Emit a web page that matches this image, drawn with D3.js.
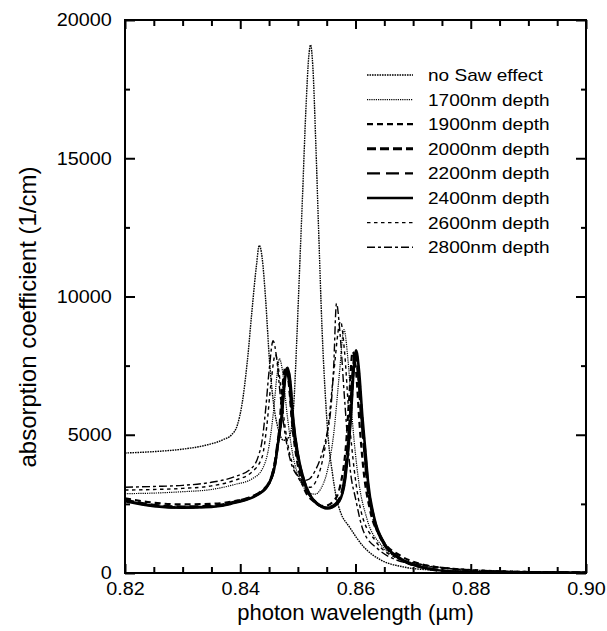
<!DOCTYPE html>
<html>
<head>
<meta charset="utf-8">
<script src="https://cdn.jsdelivr.net/npm/d3@7"></script>
<style>
  html, body { margin: 0; padding: 0; background: #fff; }
  svg { display: block; }
  text { font-family: "Liberation Sans", Arial, Helvetica, sans-serif; fill: #000; }
</style>
</head>
<body>
<svg id="chart" width="607" height="631"></svg>
<script>
// Absorption spectra [wavelength (um), absorption coefficient (1/cm)]
const noSaw = [[0.820,4340],[0.825,4390],[0.830,4480],[0.834,4620],[0.837,4820],[0.8385,5000],[0.8395,5350],[0.8403,6100],[0.8412,7600],[0.8420,9400],[0.8428,11100],[0.8433,11850],[0.8438,11400],[0.8444,9900],[0.8451,7600],[0.8458,6100],[0.8466,5200],[0.8475,4800],[0.8484,4900],[0.8490,5400],[0.8494,6500],[0.8498,8400],[0.8503,11000],[0.8508,13600],[0.8514,16800],[0.8519,18700],[0.8522,19100],[0.8526,18300],[0.8531,15600],[0.8536,12400],[0.8542,8800],[0.8548,6300],[0.8553,4800],[0.8560,3600],[0.8567,2700],[0.8574,2200],[0.8590,1650],[0.8614,950],[0.8643,480],[0.8683,220],[0.873,110],[0.880,55],[0.890,25],[0.900,12]];
const d1700 = [[0.820,2870],[0.825,2890],[0.830,2940],[0.835,3020],[0.839,3200],[0.842,3400],[0.8438,3750],[0.8450,4600],[0.8458,5900],[0.8464,7200],[0.8468,7750],[0.8474,7200],[0.8481,5800],[0.8491,4300],[0.8505,3300],[0.852,2900],[0.853,2850],[0.854,3050],[0.855,3600],[0.8562,5000],[0.8572,7200],[0.8580,8800],[0.8587,7700],[0.8595,5400],[0.8605,3400],[0.862,1950],[0.8645,1000],[0.868,500],[0.871,320],[0.876,170],[0.880,110],[0.890,45],[0.900,20]];
const d1900 = [[0.820,2700],[0.825,2540],[0.830,2480],[0.835,2500],[0.839,2600],[0.842,2760],[0.8445,3100],[0.8458,3800],[0.8467,5000],[0.8473,6700],[0.8478,7400],[0.8484,6900],[0.8490,5400],[0.8499,4000],[0.8512,3000],[0.853,2550],[0.8546,2420],[0.8562,2600],[0.8574,3200],[0.8583,4500],[0.8589,6300],[0.8595,8000],[0.8601,7300],[0.8607,5400],[0.8614,3700],[0.8625,2300],[0.8645,1250],[0.868,600],[0.871,340],[0.877,150],[0.880,100],[0.890,35],[0.900,15]];
const d2000 = [[0.820,2640],[0.825,2450],[0.830,2390],[0.835,2420],[0.8383,2530],[0.844,3000],[0.8458,3720],[0.8466,4810],[0.8471,5600],[0.8476,6800],[0.8481,7400],[0.8486,6900],[0.8491,5600],[0.8499,4340],[0.8510,3360],[0.8527,2640],[0.8551,2350],[0.8568,2530],[0.8579,3110],[0.8586,4340],[0.8591,5600],[0.8596,7300],[0.8600,8000],[0.8605,7300],[0.8611,5600],[0.8616,4450],[0.8621,3250],[0.8631,2050],[0.8649,1080],[0.8673,580],[0.8701,290],[0.8777,45],[0.890,15],[0.900,8]];
const d2200 = [[0.820,2620],[0.825,2430],[0.830,2370],[0.835,2400],[0.8383,2510],[0.844,2980],[0.8458,3690],[0.8466,4780],[0.8471,5550],[0.8476,6750],[0.8480,7300],[0.8485,6850],[0.8490,5600],[0.8498,4350],[0.8509,3380],[0.8526,2660],[0.8549,2370],[0.8566,2520],[0.8578,3100],[0.8585,4300],[0.8590,5550],[0.8595,7200],[0.8599,7900],[0.8604,7250],[0.8610,5600],[0.8615,4450],[0.8620,3250],[0.8630,2050],[0.8648,1090],[0.8672,585],[0.8700,295],[0.8775,48],[0.890,16],[0.900,8]];
const d2400 = [[0.820,2600],[0.825,2420],[0.830,2360],[0.835,2390],[0.8383,2500],[0.844,2970],[0.8458,3680],[0.8466,4760],[0.8472,5650],[0.8477,6900],[0.8482,7420],[0.8487,6900],[0.8492,5550],[0.8500,4300],[0.8511,3330],[0.8528,2620],[0.8552,2340],[0.8569,2520],[0.8580,3120],[0.8587,4350],[0.8592,5650],[0.8597,7400],[0.8601,8050],[0.8606,7350],[0.8612,5650],[0.8617,4450],[0.8622,3250],[0.8632,2040],[0.8650,1070],[0.8674,575],[0.8702,285],[0.8779,42],[0.890,14],[0.900,7]];
const d2600 = [[0.820,3000],[0.825,3020],[0.830,3060],[0.835,3150],[0.839,3350],[0.842,3650],[0.8438,4200],[0.8446,5300],[0.8453,6800],[0.8461,7900],[0.8467,7300],[0.8474,5900],[0.8483,4600],[0.8495,3700],[0.851,3200],[0.8522,3100],[0.8532,3350],[0.8542,4000],[0.8552,5200],[0.8562,7200],[0.8574,9100],[0.8581,8000],[0.8589,5600],[0.8598,3700],[0.861,2200],[0.8635,1150],[0.867,550],[0.870,370],[0.875,200],[0.880,120],[0.890,50],[0.900,22]];
const d2800 = [[0.820,3100],[0.825,3130],[0.830,3170],[0.835,3280],[0.839,3480],[0.842,3800],[0.8431,4200],[0.8438,4800],[0.8444,5900],[0.8450,7300],[0.8457,8400],[0.8463,7800],[0.8470,6300],[0.8478,5000],[0.8488,4000],[0.8500,3500],[0.8512,3350],[0.8520,3400],[0.8530,3700],[0.8540,4200],[0.8550,5000],[0.8557,5900],[0.8562,7400],[0.8567,9750],[0.8573,8700],[0.8581,6300],[0.8591,3700],[0.8600,2700],[0.8614,1500],[0.8640,850],[0.867,480],[0.870,330],[0.875,180],[0.880,110],[0.890,45],[0.900,20]];

const seriesNames = ["no Saw effect","1700nm depth","1900nm depth","2000nm depth","2200nm depth","2400nm depth","2600nm depth","2800nm depth"];
const seriesData = [noSaw, d1700, d1900, d2000, d2200, d2400, d2600, d2800];

const xTicks = [0.82, 0.84, 0.86, 0.88, 0.90];
const xMinorTicks = [0.825,0.83,0.835,0.845,0.85,0.855,0.865,0.87,0.875,0.885,0.89,0.895];
const yTicks = [0, 5000, 10000, 15000, 20000];
const yMinorTicks = [2500, 7500, 12500, 17500];

// Line styles per series
const styles = [
  {w: 1.4, dash: "1.6,0.9"},
  {w: 1.2, dash: "1.2,1.0"},
  {w: 2.2, dash: "6,4"},
  {w: 3.0, dash: "9,4"},
  {w: 2.2, dash: "13,6"},
  {w: 2.6, dash: null},
  {w: 1.4, dash: "3.5,3.5"},
  {w: 1.4, dash: "8,3,3,3"}
];

const margin = {top: 20, right: 21, bottom: 58, left: 125};
const W = 607, H = 631;
const iw = W - margin.left - margin.right;
const ih = H - margin.top - margin.bottom;

const svg = d3.select("#chart");
const g = svg.append("g").attr("transform", `translate(${margin.left},${margin.top})`);

const x = d3.scaleLinear().domain([0.82, 0.90]).range([0, iw]);
const y = d3.scaleLinear().domain([0, 20000]).range([ih, 0]);

// Curves
const line = d3.line().x(d => x(d[0])).y(d => y(d[1])).curve(d3.curveMonotoneX);
g.append("clipPath").attr("id", "plotclip").append("rect")
  .attr("width", iw).attr("height", ih);
const curves = g.append("g").attr("clip-path", "url(#plotclip)");
seriesData.forEach((data, i) => {
  curves.append("path")
    .datum(data)
    .attr("d", line)
    .attr("fill", "none")
    .attr("stroke", "#000")
    .attr("stroke-width", styles[i].w)
    .attr("stroke-dasharray", styles[i].dash)
    .attr("stroke-linejoin", "round");
});

// Axes: ticks pointing inward on all four sides
const tickStretch = "scale(1.1,1)";
const axB = g.append("g").attr("transform", `translate(0,${ih})`)
  .call(d3.axisBottom(x).tickValues(xTicks).tickFormat(d3.format(".2f")).tickSize(-9).tickPadding(9));
axB.selectAll("text").attr("font-size", 18).attr("dy", "0.75em").attr("transform", tickStretch);
g.append("g").attr("transform", `translate(0,${ih})`)
  .call(d3.axisBottom(x).tickValues(xMinorTicks).tickFormat("").tickSize(-6));
g.append("g").call(d3.axisTop(x).tickValues(xTicks).tickFormat("").tickSize(-9));
g.append("g").call(d3.axisTop(x).tickValues(xMinorTicks).tickFormat("").tickSize(-6));

const axL = g.append("g")
  .call(d3.axisLeft(y).tickValues(yTicks).tickFormat(d3.format("d")).tickSize(-10).tickPadding(12));
axL.selectAll("text").attr("font-size", 18).attr("transform", tickStretch);
g.append("g").call(d3.axisLeft(y).tickValues(yMinorTicks).tickFormat("").tickSize(-5));
g.append("g").attr("transform", `translate(${iw},0)`)
  .call(d3.axisRight(y).tickValues(yTicks).tickFormat("").tickSize(-10));
g.append("g").attr("transform", `translate(${iw},0)`)
  .call(d3.axisRight(y).tickValues(yMinorTicks).tickFormat("").tickSize(-5));

g.selectAll(".domain").remove();
g.selectAll(".tick line").attr("stroke", "#000").attr("stroke-width", 2);

// Frame
g.append("rect").attr("width", iw).attr("height", ih)
  .attr("fill", "none").attr("stroke", "#000").attr("stroke-width", 2);

// Axis titles
svg.append("text")
  .attr("transform", `translate(${margin.left + iw / 2},620)`)
  .attr("text-anchor", "middle").attr("font-size", 22)
  .text("photon wavelength (\u00b5m)");
svg.append("text")
  .attr("transform", `translate(36,317) rotate(-90)`)
  .attr("text-anchor", "middle").attr("font-size", 24)
  .text("absorption coefficient (1/cm)");

// Legend
const legend = svg.append("g").attr("transform", "translate(367,75)");
seriesNames.forEach((name, i) => {
  const row = legend.append("g").attr("transform", `translate(0,${i * 24.6})`);
  row.append("line")
    .attr("x1", 0).attr("x2", 46).attr("y1", 0).attr("y2", 0)
    .attr("stroke", "#000")
    .attr("stroke-width", styles[i].w)
    .attr("stroke-dasharray", styles[i].dash);
  row.append("text")
    .attr("transform", "translate(61,6) scale(1.12,1)")
    .attr("font-size", 17)
    .text(name);
});
</script>
</body>
</html>
